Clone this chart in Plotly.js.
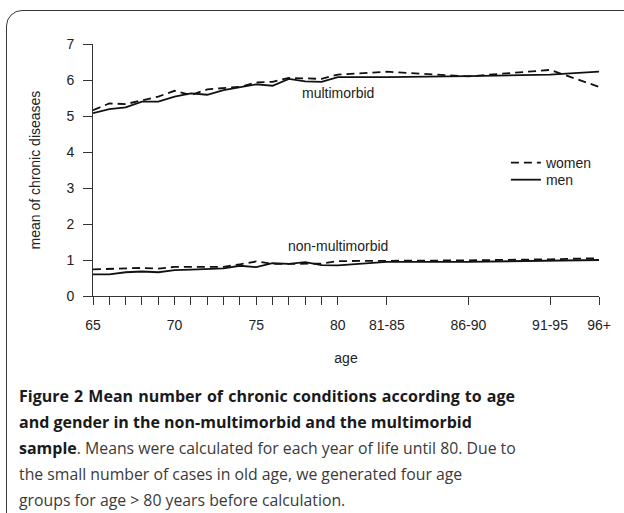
<!DOCTYPE html>
<html><head><meta charset="utf-8">
<script src="https://cdn.plot.ly/plotly-3.0.1.min.js"></script>
<style>
html,body{margin:0;padding:0;background:#fff;overflow:hidden;}
#wrap{position:relative;width:624px;height:513px;overflow:hidden;background:#fff;}
#frame{position:absolute;left:6px;top:9.5px;width:700px;height:600px;border:1.5px solid #3a3a3a;border-radius:16px;}
#plot{position:absolute;left:0;top:0;width:624px;height:513px;}
#cap{position:absolute;left:19px;top:383px;font-family:"Open Sans",sans-serif;color:#3a3a3a;font-size:15.8px;line-height:26px;white-space:nowrap;}
#cap b{color:#1a1a1a;font-weight:700;font-size:16px;}
#cap .j{width:496px;text-align:justify;text-align-last:justify;}
</style></head>
<body>
<div id="wrap">
  <div id="frame"></div>
  <div id="plot"></div>
  <div id="cap">
    <div class="j"><b>Figure 2 Mean number of chronic conditions according to age</b></div>
    <div><b>and gender in the non-multimorbid and the multimorbid</b></div>
    <div class="j"><b>sample</b>. Means were calculated for each year of life until 80. Due to</div>
    <div>the small number of cases in old age, we generated four age</div>
    <div>groups for age &gt; 80 years before calculation.</div>
  </div>
</div>
<script>
// age categories and their position on the age axis
const ageLabels = ['65','66','67','68','69','70','71','72','73','74','75','76','77','78','79','80','81-85','86-90','91-95','96+'];
const agePos    = [65,66,67,68,69,70,71,72,73,74,75,76,77,78,79,80,83,88,93,96];
const shownTickLabels = ['65','','','','','70','','','','','75','','','','','80','81-85','86-90','91-95','96+'];

// mean number of chronic diseases
const womenMulti = [5.16,5.35,5.33,5.43,5.54,5.70,5.58,5.74,5.77,5.81,5.93,5.95,6.06,6.04,6.03,6.15,6.23,6.10,6.28,5.81];
const menMulti   = [5.08,5.19,5.24,5.40,5.40,5.54,5.63,5.59,5.72,5.79,5.88,5.84,6.03,5.96,5.95,6.08,6.08,6.11,6.15,6.23];
const womenNon   = [0.74,0.75,0.77,0.78,0.76,0.81,0.81,0.82,0.81,0.88,0.96,0.89,0.89,0.91,0.90,0.97,0.97,0.99,1.02,1.05];
const menNon     = [0.60,0.60,0.66,0.68,0.66,0.72,0.73,0.75,0.77,0.84,0.80,0.91,0.89,0.94,0.86,0.85,0.95,0.95,0.98,1.00];

const yTicks = [0,1,2,3,4,5,6,7];

const lineCol = '#111';
const dashPat = '8px,5px';

const traces = [
  {x: agePos, y: womenMulti, type:'scatter', mode:'lines', name:'women', legend:'legend',
   line:{color:lineCol, width:1.8, dash:dashPat}, text: ageLabels, showlegend:true},
  {x: agePos, y: menMulti, type:'scatter', mode:'lines', name:'men', legend:'legend2',
   line:{color:lineCol, width:1.8}, text: ageLabels, showlegend:true},
  {x: agePos, y: womenNon, type:'scatter', mode:'lines', name:'women',
   line:{color:lineCol, width:1.8, dash:dashPat}, text: ageLabels, showlegend:false},
  {x: agePos, y: menNon, type:'scatter', mode:'lines', name:'men',
   line:{color:lineCol, width:1.8}, text: ageLabels, showlegend:false}
];

const fontFam = '"Liberation Sans", Arial, Helvetica, sans-serif';
const txtFont = {family:fontFam, size:14, color:'#222'};

const layout = {
  width:624, height:513,
  margin:{l:93, r:24.5, t:44, b:217, pad:0},
  paper_bgcolor:'rgba(0,0,0,0)', plot_bgcolor:'rgba(0,0,0,0)',
  font:txtFont,
  showlegend:true,
  legend:{x:0.816, xanchor:'left', y:0.528, yanchor:'middle', bgcolor:'rgba(0,0,0,0)', font:txtFont},
  legend2:{x:0.816, xanchor:'left', y:0.460, yanchor:'middle', bgcolor:'rgba(0,0,0,0)', font:txtFont},
  xaxis:{range:[65,96], tickmode:'array', tickvals:agePos, ticktext:shownTickLabels,
         ticks:'outside', ticklen:8, tickwidth:1, tickcolor:'#333',
         showline:true, linecolor:'#333', linewidth:1, showgrid:false, zeroline:false,
         ticklabelstandoff:8, automargin:false,
         title:{text:'age', standoff:21, font:txtFont}},
  yaxis:{range:[0,7], tickmode:'array', tickvals:yTicks, ticktext:yTicks.map(String),
         ticks:'outside', ticklen:9, tickwidth:1, tickcolor:'#333',
         showline:true, linecolor:'#333', linewidth:1, showgrid:false, zeroline:false,
         ticklabelstandoff:6, automargin:false,
         title:{text:'mean of chronic diseases', standoff:22, font:txtFont}},
  annotations:[
    {x:80, y:5.65, xref:'x', yref:'y', text:'multimorbid', showarrow:false, font:txtFont},
    {x:80, y:1.39, xref:'x', yref:'y', text:'non-multimorbid', showarrow:false, font:txtFont}
  ]
};

Plotly.newPlot('plot', traces, layout, {staticPlot:true, displayModeBar:false});
</script>
</body></html>
